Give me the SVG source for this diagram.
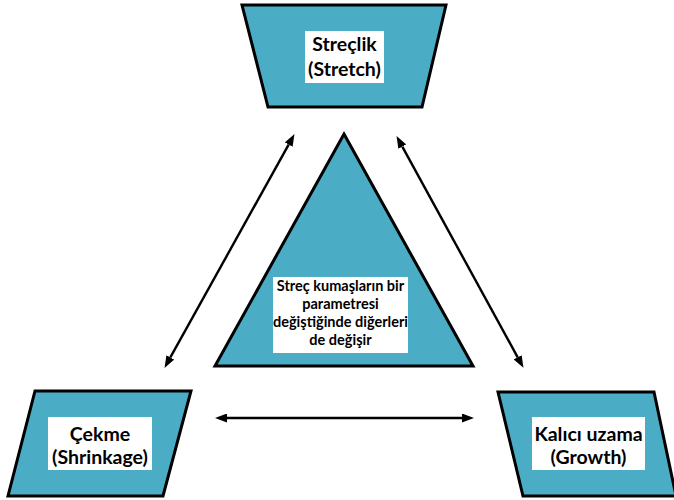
<svg xmlns="http://www.w3.org/2000/svg" width="674" height="500" viewBox="0 0 674 500">
<style>
.shape{fill:#4BACC6;stroke:#000;stroke-width:3;stroke-linejoin:miter}
.box{fill:#fff}
.t{font-family:Lato,"Liberation Sans",sans-serif;font-weight:bold;fill:#000;text-anchor:middle}
.big{font-size:19.5px}
.small{font-size:14.5px}
.conn{stroke:#000;stroke-width:2.4;fill:none}
</style>
<defs>
<marker id="ah" markerUnits="userSpaceOnUse" markerWidth="12" markerHeight="9" viewBox="0 0 12 9" refX="0" refY="4.5" orient="auto-start-reverse">
<path d="M0,0 L12,4.5 L0,9 z" fill="#000"/>
</marker>
</defs>
<rect width="674" height="500" fill="#fff"/>
<g id="stretch">
<polygon class="shape" points="242,5 446,5 422,107 268,107"/>
<rect class="box" x="305" y="31" width="79" height="52"/>
<text class="t big" x="344.5" y="51">Streçlik</text>
<text class="t big" x="344.5" y="76">(Stretch)</text>
</g>
<g id="shrinkage">
<polygon class="shape" points="35,391 191,391 163,496 8,496"/>
<rect class="box" x="48" y="417" width="104" height="53"/>
<text class="t big" x="100" y="441">Çekme</text>
<text class="t big" x="100" y="464">(Shrinkage)</text>
</g>
<g id="growth">
<polygon class="shape" points="498,392 654,392 676,496 523,496"/>
<rect class="box" x="532" y="417" width="113" height="53"/>
<text class="t big" x="588.5" y="441">Kalıcı uzama</text>
<text class="t big" x="588.5" y="464">(Growth)</text>
</g>
<g id="center">
<polygon class="shape" points="344,134 473,366 215,366"/>
<rect class="box" x="273" y="277" width="135" height="76"/>
<text class="t small" x="340.5" y="291">Streç kumaşların bir</text>
<text class="t small" x="340.5" y="309">parametresi</text>
<text class="t small" x="340.5" y="327">değiştiğinde diğerleri</text>
<text class="t small" x="340.5" y="345">de değişir</text>
</g>
<g id="connectors">
<line class="conn" x1="170.35" y1="357.4" x2="288.65" y2="144.6" marker-start="url(#ah)" marker-end="url(#ah)"/>
<line class="conn" x1="402.3" y1="146.6" x2="517.7" y2="357.3" marker-start="url(#ah)" marker-end="url(#ah)"/>
<line class="conn" x1="227" y1="418" x2="462" y2="418" marker-start="url(#ah)" marker-end="url(#ah)"/>
</g>
</svg>
